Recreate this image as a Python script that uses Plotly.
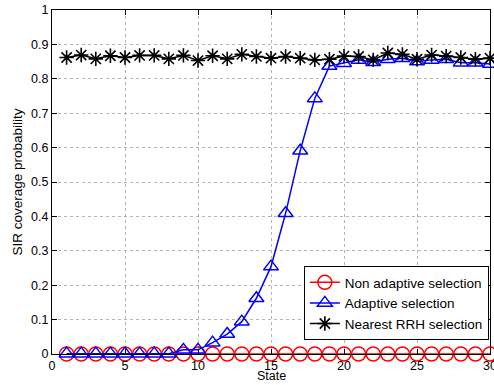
import plotly.graph_objects as go

# State index and coverage probability of each RRH selection scheme
states = list(range(1, 31))

non_adaptive = [0.0] * 30

adaptive = [0.001, 0.001, 0.001, 0.001, 0.001, 0.001, 0.001, 0.001, 0.012, 0.012,
            0.033, 0.058, 0.094, 0.162, 0.254, 0.409, 0.591, 0.743, 0.837, 0.845,
            0.855, 0.848, 0.857, 0.860, 0.850, 0.855, 0.857, 0.847, 0.847, 0.843]

nearest = [0.862, 0.869, 0.858, 0.867, 0.862, 0.868, 0.868, 0.858, 0.868, 0.853,
           0.867, 0.858, 0.871, 0.865, 0.860, 0.865, 0.860, 0.855, 0.857, 0.866,
           0.865, 0.855, 0.875, 0.871, 0.857, 0.869, 0.866, 0.862, 0.857, 0.860]

x_ticks = [0, 5, 10, 15, 20, 25, 30]
y_ticks = [0, 0.1, 0.2, 0.3, 0.4, 0.5, 0.6, 0.7, 0.8, 0.9, 1]

FONT = "Liberation Sans, Arial, Helvetica, sans-serif"

fig = go.Figure()

fig.add_trace(go.Scatter(
    x=states, y=non_adaptive, name="Non adaptive selection",
    mode="lines+markers", cliponaxis=False,
    line=dict(color="#ff0000", width=1.5),
    marker=dict(symbol="circle-open", size=14, color="#ff0000",
                line=dict(width=1.5, color="#ff0000")),
))
fig.add_trace(go.Scatter(
    x=states, y=adaptive, name="Adaptive selection",
    mode="lines+markers", cliponaxis=False,
    line=dict(color="#0000ff", width=1.5),
    marker=dict(symbol="triangle-up-open", size=13, color="#0000ff",
                line=dict(width=1.5, color="#0000ff")),
))
fig.add_trace(go.Scatter(
    x=states, y=nearest, name="Nearest RRH selection",
    mode="lines+markers", cliponaxis=False,
    line=dict(color="#000000", width=1.5),
    marker=dict(symbol="asterisk-open", size=12, color="#000000",
                line=dict(width=1.6, color="#000000")),
))

axis_common = dict(
    showline=True, linecolor="#000000", linewidth=1, mirror="ticks",
    ticks="inside", ticklen=5, tickcolor="#000000", tickwidth=1,
    showgrid=True, gridcolor="#b5b5b5", griddash="dot", gridwidth=1,
    zeroline=False, ticklabeloverflow="allow", automargin=True,
    tickfont=dict(family=FONT, size=12.5, color="#000000"),
)

fig.update_xaxes(range=[0, 30], tickvals=x_ticks, **axis_common)
fig.update_yaxes(
    range=[0, 1], tickvals=y_ticks, ticktext=[f"{v:g}" for v in y_ticks],
    title=dict(text="SIR coverage probability", font=dict(family=FONT, size=13.5, color="#000000"), standoff=5),
    **axis_common,
)

# x-axis label placed at the bottom edge, below the tick labels
fig.add_annotation(
    text="State", xref="paper", yref="paper", x=0.5, y=-0.0901,
    xanchor="center", yanchor="bottom", showarrow=False,
    font=dict(family=FONT, size=12.5, color="#000000"),
)

fig.update_layout(
    width=494, height=385,
    margin=dict(l=52, r=4, t=10, b=31, autoexpand=False),
    paper_bgcolor="#ffffff", plot_bgcolor="#ffffff",
    showlegend=True,
    legend=dict(
        x=0.575, y=0.148, xanchor="left", yanchor="middle",
        bgcolor="#ffffff", bordercolor="#000000", borderwidth=1,
        font=dict(family=FONT, size=13.5, color="#000000"),
        itemwidth=30, tracegroupgap=0,
    ),
)

fig.write_html("out.html")
